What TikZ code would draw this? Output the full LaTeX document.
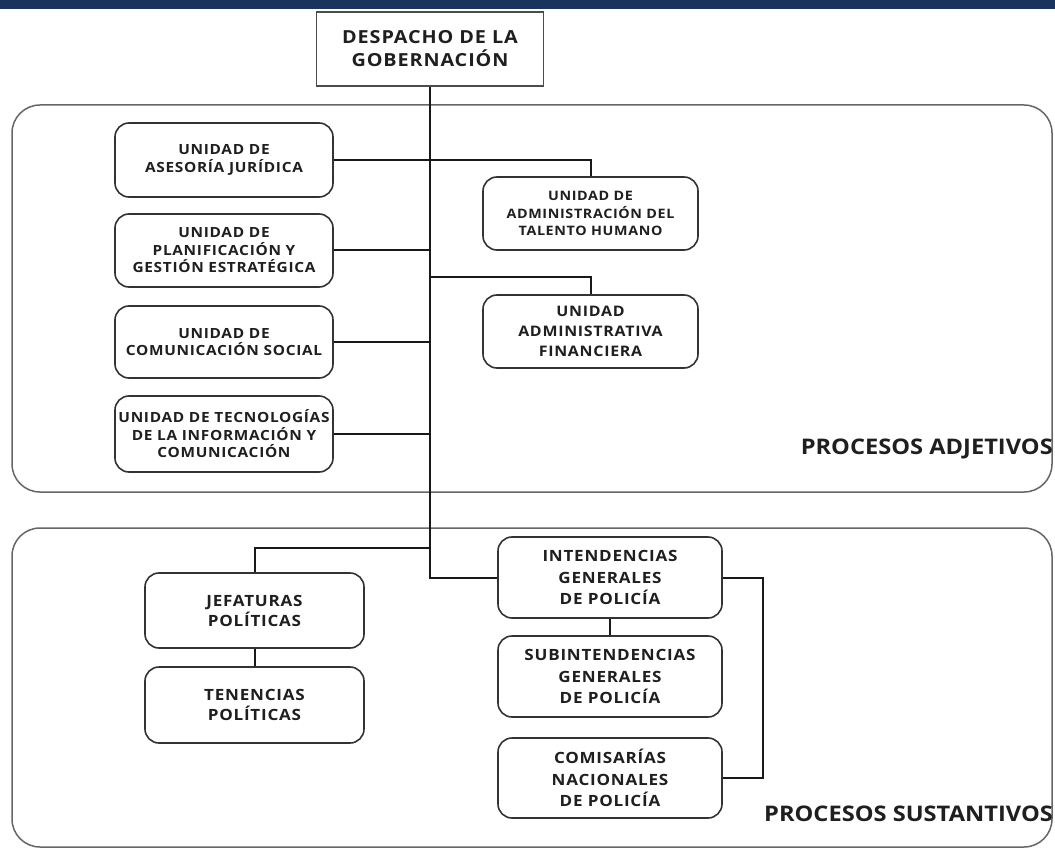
\documentclass[tikz,border=0pt]{standalone}
\usepackage{fontspec}
\setmainfont{Open Sans}
\newfontfamily\bxf{Open Sans}[LetterSpace=5,FakeStretch=1.1]
\newfontfamily\lbf{Open Sans}[FakeStretch=1.1]
\definecolor{navy}{RGB}{24,52,92}
\begin{document}
\begin{tikzpicture}[x=1pt,y=-1pt,
  ubox/.style={draw=black!80, fill=white, line width=1.6pt, rounded corners=14pt,
    minimum width=218pt, minimum height=74pt, align=center, inner sep=0pt,
    font=\bxf\bfseries\fontsize{14}{17.5}\selectfont, text=black!88},
  dbox/.style={draw=black!70, fill=white, line width=1.5pt, minimum width=227pt,
    minimum height=74pt, align=center, inner sep=0pt,
    font=\bxf\bfseries\fontsize{18}{23}\selectfont, text=black!88},
  conn/.style={line width=2pt, draw=black!90},
  panel/.style={draw=black!60, line width=1.5pt, rounded corners=28pt},
  plabel/.style={font=\lbf\bfseries\fontsize{21.5}{24}\selectfont, text=black!88, anchor=east, inner sep=0pt}
]
\useasboundingbox (0,0) rectangle (1055,850);
\fill[white] (0,0) rectangle (1055,850);
\fill[navy] (0,0) rectangle (1055,9);

% panels
\draw[panel] (12,105) rectangle (1052,492);
\draw[panel] (12,528) rectangle (1052,847);
\node[plabel] (adj) at (1053,449) {PROCESOS ADJETIVOS};
\node[plabel] (sus) at (1053,814) {PROCESOS SUSTANTIVOS};

% coordinates for branches
\coordinate (finb) at (430,277);
\coordinate (jefb) at (430,548);

% nodes
\node[dbox] (desp) at (430,49) {DESPACHO DE LA\\GOBERNACIÓN};
\node[ubox] (ase) at (224,160) {UNIDAD DE\\ASESORÍA JURÍDICA};
\node[ubox, minimum height=73pt] (plan) at (224,250.5) {UNIDAD DE\\PLANIFICACIÓN Y\\GESTIÓN ESTRATÉGICA};
\node[ubox, minimum height=72pt] (comu) at (224,342) {UNIDAD DE\\COMUNICACIÓN SOCIAL};
\node[ubox, minimum height=76pt] (tec) at (224,434) {UNIDAD DE TECNOLOGÍAS\\DE LA INFORMACIÓN Y\\COMUNICACIÓN};
\node[ubox, minimum width=215pt, minimum height=73pt, font=\bxf\bfseries\fontsize{13}{17.5}\selectfont] (tal) at (590.5,213.5) {UNIDAD DE\\ADMINISTRACIÓN DEL\\TALENTO HUMANO};
\node[ubox, minimum width=215pt, minimum height=73pt, font=\bxf\bfseries\fontsize{14.5}{20}\selectfont] (fin) at (590.5,331.5) {UNIDAD\\ADMINISTRATIVA\\FINANCIERA};
\node[ubox, minimum width=219pt, minimum height=75pt, font=\bxf\bfseries\fontsize{15.5}{20}\selectfont] (jef) at (254.5,610.5) {JEFATURAS\\POLÍTICAS};
\node[ubox, minimum width=219pt, minimum height=76pt, font=\bxf\bfseries\fontsize{15.5}{20}\selectfont] (ten) at (254.5,705) {TENENCIAS\\POLÍTICAS};
\node[ubox, minimum width=224pt, minimum height=81pt, font=\bxf\bfseries\fontsize{15.5}{21.5}\selectfont] (int) at (610,577.5) {INTENDENCIAS\\GENERALES\\DE POLICÍA};
\node[ubox, minimum width=224pt, minimum height=81pt, font=\bxf\bfseries\fontsize{15.5}{21.5}\selectfont] (sub) at (610,676.5) {SUBINTENDENCIAS\\GENERALES\\DE POLICÍA};
\node[ubox, minimum width=224pt, minimum height=80pt, font=\bxf\bfseries\fontsize{15.5}{21.5}\selectfont] (com) at (610,778) {COMISARÍAS\\NACIONALES\\DE POLICÍA};

% connectors
\draw[conn] (desp.south) -- (desp.south |- int.west) -- (int.west);
\draw[conn] (ase.east) -- (ase.east -| tal.north) -- (tal.north);
\draw[conn] (plan.east) -- (plan.east -| desp.south);
\draw[conn] (comu.east) -- (comu.east -| desp.south);
\draw[conn] (tec.east) -- (tec.east -| desp.south);
\draw[conn] (finb) -- (finb -| fin.north) -- (fin.north);
\draw[conn] (jefb) -- (jefb -| jef.north) -- (jef.north);
\draw[conn] (jef.south) -- (ten.north);
\draw[conn] (int.south) -- (sub.north);
\draw[conn] (int.east) -- ++(40,0) |- (com.east);
\end{tikzpicture}
\end{document}
